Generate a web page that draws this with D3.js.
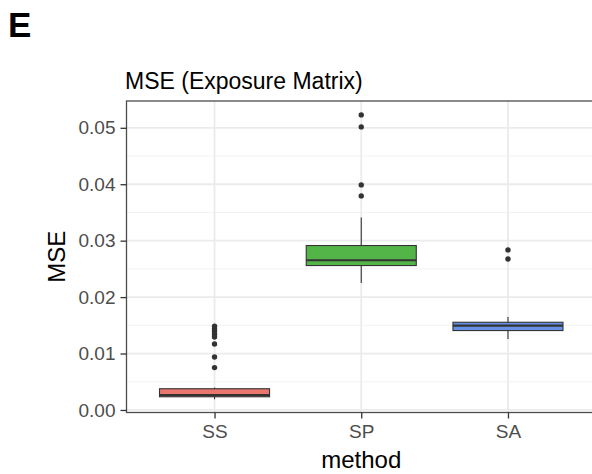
<!DOCTYPE html>
<html>
<head>
<meta charset="utf-8">
<script src="https://cdn.jsdelivr.net/npm/d3@7"></script>
<style>
  html, body { margin: 0; padding: 0; background: #fff; }
  svg { display: block; font-family: "Liberation Sans", Arial, Helvetica, sans-serif; }
</style>
</head>
<body>
<svg id="chart" width="592" height="474"></svg>
<script>
// values
var categories = ['SS', 'SP', 'SA'];
var fills = ['#e9776d', '#53b548', '#6592e6'];
var whiskerLow = [0.00190, 0.02251, 0.01258];
var q1 = [0.00234, 0.02559, 0.01407];
var median = [0.00262, 0.02653, 0.01496];
var q3 = [0.00376, 0.02914, 0.01554];
var whiskerHigh = [0.00397, 0.03410, 0.01648];
var outliers = [
  [0.01484, 0.01436, 0.01390, 0.01342, 0.01294, 0.01170, 0.00939, 0.00751],
  [0.05229, 0.05016, 0.03988, 0.03793],
  [0.02836, 0.02676]
];
var yTicks = [0, 0.01, 0.02, 0.03, 0.04, 0.05];
var yMinor = [0.005, 0.015, 0.025, 0.035, 0.045];

var svg = d3.select('#chart');

var panel = {left: 126.5, top: 101, right: 596, bottom: 412.5};

var x = d3.scalePoint()
  .domain(categories)
  .range([panel.left, panel.right])
  .padding(0.6);

var y = d3.scaleLinear()
  .domain([-0.00045, 0.05475])
  .range([panel.bottom, panel.top]);

var boxW = x.step() * 0.75;

// grid
var grid = svg.append('g');
grid.selectAll('line.minor')
  .data(yMinor)
  .enter().append('line')
    .attr('x1', panel.left).attr('x2', panel.right)
    .attr('y1', function (d) { return y(d); })
    .attr('y2', function (d) { return y(d); })
    .attr('stroke', '#f2f2f2')
    .attr('stroke-width', 1);
grid.selectAll('line.major')
  .data(yTicks)
  .enter().append('line')
    .attr('x1', panel.left).attr('x2', panel.right)
    .attr('y1', function (d) { return y(d); })
    .attr('y2', function (d) { return y(d); })
    .attr('stroke', '#ebebeb')
    .attr('stroke-width', 1.8);
grid.selectAll('line.vert')
  .data(categories)
  .enter().append('line')
    .attr('y1', panel.top).attr('y2', panel.bottom)
    .attr('x1', function (d) { return x(d); })
    .attr('x2', function (d) { return x(d); })
    .attr('stroke', '#ebebeb')
    .attr('stroke-width', 1.8);

// boxes
var boxes = svg.append('g')
  .selectAll('g')
  .data(categories)
  .enter().append('g');

boxes.append('line')
  .attr('x1', function (d) { return x(d); })
  .attr('x2', function (d) { return x(d); })
  .attr('y1', function (d, i) { return y(whiskerHigh[i]); })
  .attr('y2', function (d, i) { return y(whiskerLow[i]); })
  .attr('stroke', '#333')
  .attr('stroke-width', 1.1);

boxes.append('rect')
  .attr('x', function (d) { return x(d) - boxW / 2; })
  .attr('width', boxW)
  .attr('y', function (d, i) { return y(q3[i]); })
  .attr('height', function (d, i) { return y(q1[i]) - y(q3[i]); })
  .attr('fill', function (d, i) { return fills[i]; })
  .attr('stroke', '#333')
  .attr('stroke-width', 1.1);

boxes.append('line')
  .attr('x1', function (d) { return x(d) - boxW / 2; })
  .attr('x2', function (d) { return x(d) + boxW / 2; })
  .attr('y1', function (d, i) { return y(median[i]); })
  .attr('y2', function (d, i) { return y(median[i]); })
  .attr('stroke', '#333')
  .attr('stroke-width', 2.2);

boxes.each(function (d, i) {
  d3.select(this).selectAll('circle')
    .data(outliers[i])
    .enter().append('circle')
      .attr('cx', x(d))
      .attr('cy', function (v) { return y(v); })
      .attr('r', 2.7)
      .attr('fill', '#333');
});

// panel border
svg.append('rect')
  .attr('x', panel.left).attr('y', panel.top)
  .attr('width', panel.right - panel.left)
  .attr('height', panel.bottom - panel.top)
  .attr('fill', 'none')
  .attr('stroke', '#4d4d4d')
  .attr('stroke-width', 1.3);

// y axis
var yAxis = svg.append('g')
  .attr('transform', 'translate(' + panel.left + ',0)')
  .call(d3.axisLeft(y).tickValues(yTicks).tickSize(6).tickPadding(5)
    .tickFormat(d3.format('.2f')));
yAxis.select('.domain').remove();
yAxis.selectAll('.tick line').attr('stroke', '#333').attr('stroke-width', 1.3);
yAxis.selectAll('.tick text')
  .attr('fill', '#4d4d4d')
  .style('font-size', '19px')
  .style('font-family', '"Liberation Sans", Arial, Helvetica, sans-serif');

// x axis
var xAxis = svg.append('g')
  .attr('transform', 'translate(0,' + panel.bottom + ')')
  .call(d3.axisBottom(x).tickSize(6).tickPadding(6));
xAxis.select('.domain').remove();
xAxis.selectAll('.tick line').attr('stroke', '#333').attr('stroke-width', 1.3);
xAxis.selectAll('.tick text')
  .attr('fill', '#4d4d4d')
  .style('font-size', '19px')
  .style('font-family', '"Liberation Sans", Arial, Helvetica, sans-serif');

// titles
svg.append('text')
  .attr('x', (panel.left + panel.right) / 2)
  .attr('y', 468)
  .attr('text-anchor', 'middle')
  .style('font-size', '24px')
  .text('method');

svg.append('text')
  .attr('transform', 'translate(65,' + (panel.top + panel.bottom) / 2 + ') rotate(-90)')
  .attr('text-anchor', 'middle')
  .style('font-size', '24px')
  .text('MSE');

svg.append('text')
  .attr('x', 125)
  .attr('y', 89)
  .style('font-size', '23px')
  .text('MSE (Exposure Matrix)');

svg.append('text')
  .attr('x', 8)
  .attr('y', 37)
  .style('font-size', '35px')
  .style('font-weight', 'bold')
  .text('E');
</script>
</body>
</html>
